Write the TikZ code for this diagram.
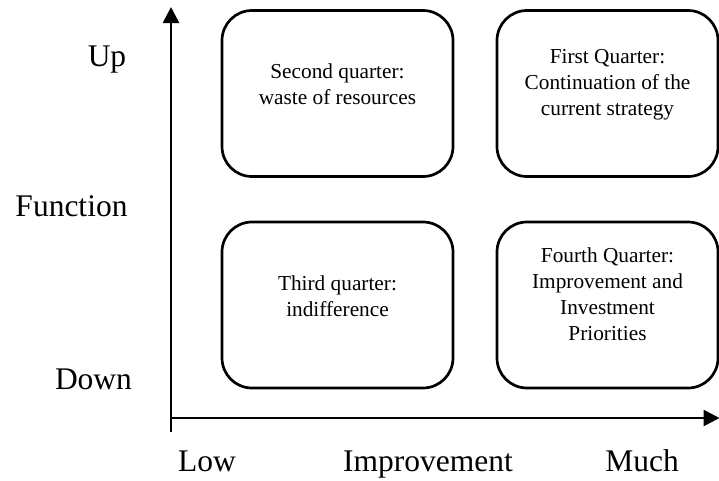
\documentclass[tikz,border=0pt]{standalone}
\usepackage{fontspec}
\setmainfont{Liberation Serif}
\usetikzlibrary{arrows.meta}
\begin{document}
\begin{tikzpicture}[x=1pt,y=-1pt,
  quad/.style={draw,line width=2.7pt,rounded corners=30pt,minimum width=#1,minimum height=166pt,inner sep=0pt},
  qtext/.style={align=center,font=\fontsize{21.3}{26}\selectfont,inner sep=0pt},
  axlabel/.style={font=\fontsize{31.5}{36}\selectfont,inner sep=0pt},
  axis/.style={line width=2.7pt,-{Triangle[width=16pt,length=16pt]}}]
\useasboundingbox (0,0) rectangle (719,480);
% boxes
\node[quad=231pt] (q2) at (337.5,93.5) {};
\node[quad=221pt] (q1) at (607.5,93.5) {};
\node[quad=231pt] (q3) at (337.5,305) {};
\node[quad=221pt] (q4) at (607.5,305) {};
% box texts
\node[qtext] (t2) at (337.5,84) {Second quarter:\\waste of resources};
\node[qtext] (t1) at (607.5,84.5) {First Quarter:\\Continuation of the\\current strategy};
\node[qtext] (t3) at (337.5,296) {Third quarter:\\indifference};
\node[qtext] (t4) at (607.5,294) {Fourth Quarter:\\Improvement and\\Investment\\Priorities};
% axes
\coordinate (ybot) at (171,432);
\coordinate (ytop) at (171,7);
\coordinate (xl) at (170,418);
\coordinate (xr) at (719.5,418);
\draw[axis] (ybot) -- (ytop);
\draw[axis] (xl) -- (xr);
% axis labels
\node[axlabel] (up) at (107,60) {Up};
\node[axlabel] (fn) at (71.5,206) {Function};
\node[axlabel] (down) at (93.5,379.5) {Down};
\node[axlabel,anchor=base] (low) at (207,471.5) {Low};
\node[axlabel,anchor=base] (imp) at (428,471.5) {Improvement};
\node[axlabel,anchor=base] (much) at (642,471.5) {Much};
\end{tikzpicture}
\end{document}
